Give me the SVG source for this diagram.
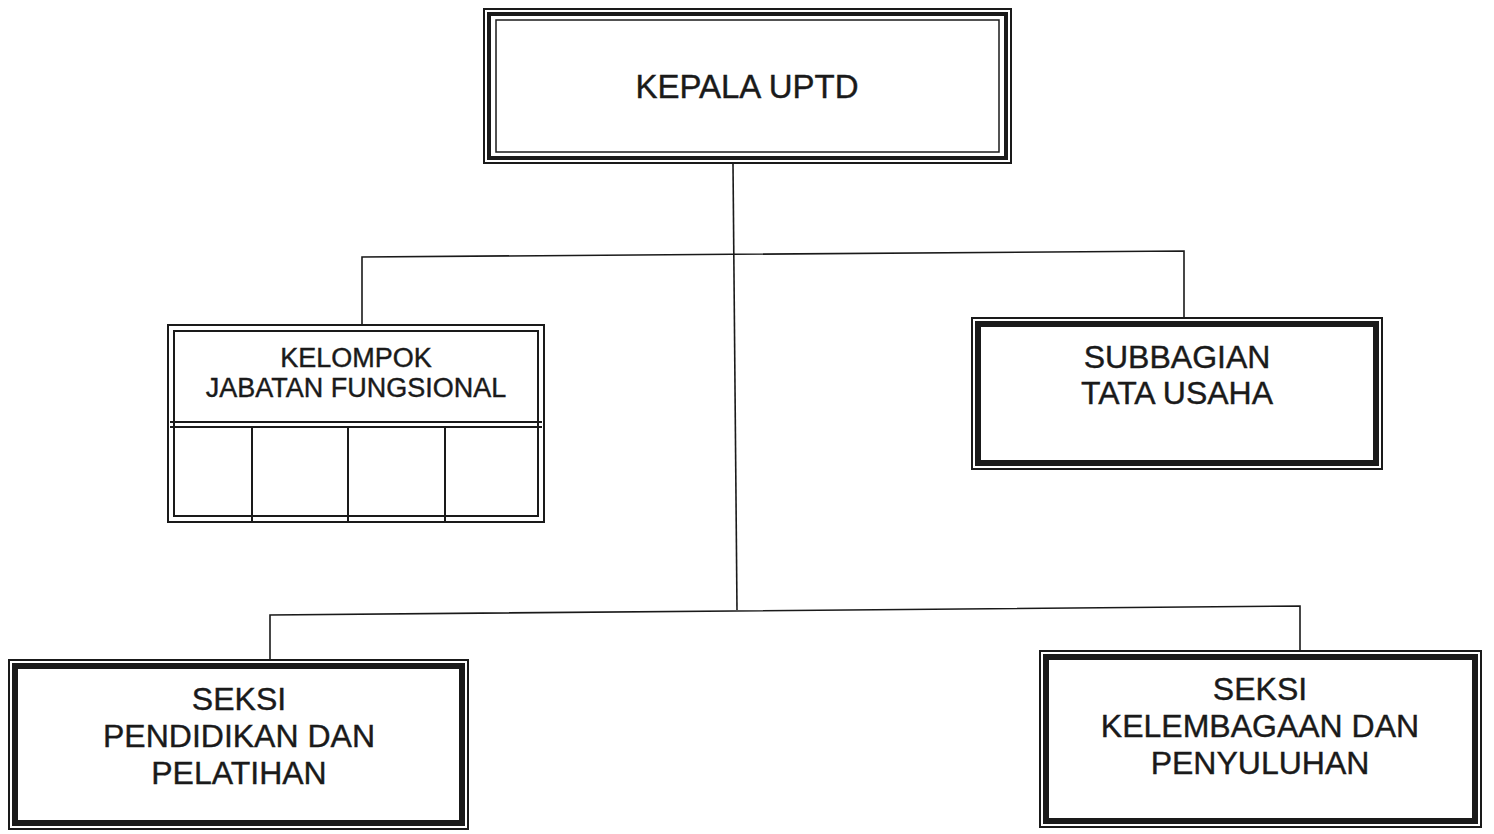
<svg xmlns="http://www.w3.org/2000/svg" width="1494" height="834" viewBox="0 0 1494 834">
<style>
.o{fill:none;stroke:#1a1a1a;stroke-width:2}
.m{fill:none;stroke:#1a1a1a;stroke-width:4}
.mt{fill:none;stroke:#1a1a1a;stroke-width:6}
.i{fill:none;stroke:#1a1a1a;stroke-width:1.5}
.c{fill:none;stroke:#1a1a1a;stroke-width:1.6}
text{font-family:"Liberation Sans",Arial,sans-serif;fill:#1a1a1a;stroke:#1a1a1a;stroke-width:0.4;text-anchor:middle}
.t33{font-size:33px}
.t27{font-size:27px}
.t32{font-size:32px}
</style>
<rect width="1494" height="834" fill="#ffffff"/>
<g id="connectors">
<polyline class="c" points="733,164 737,610"/>
<polyline class="c" points="362,325 362,257 1184,251 1184,318"/>
<polyline class="c" points="270,660 270,615 1300,606 1300,652"/>
</g>
<g id="kepala">
<rect x="484" y="9" width="527" height="154" fill="#fff" class="o"/>
<rect x="489" y="14" width="517" height="144" class="m"/>
<rect x="496" y="20" width="503" height="132" class="i"/>
<text class="t33" x="747" y="98">KEPALA UPTD</text>
</g>
<g id="kelompok">
<rect x="168" y="325" width="376" height="197" fill="#fff" class="o"/>
<rect x="174" y="331" width="364" height="185" class="o"/>
<line class="o" x1="170" y1="422" x2="542" y2="422"/>
<line class="o" x1="170" y1="427" x2="542" y2="427"/>
<line class="o" x1="252" y1="427" x2="252" y2="522"/>
<line class="o" x1="348" y1="427" x2="348" y2="522"/>
<line class="o" x1="445" y1="427" x2="445" y2="522"/>
<text class="t27" x="356" y="367">KELOMPOK</text>
<text class="t27" x="356" y="397">JABATAN FUNGSIONAL</text>
</g>
<g id="subbagian">
<rect x="972" y="318" width="410" height="151" fill="#fff" class="o"/>
<rect x="978" y="324" width="398" height="139" class="mt"/>
<text class="t32" x="1177" y="368">SUBBAGIAN</text>
<text class="t32" x="1177" y="404">TATA USAHA</text>
</g>
<g id="seksi-pendidikan">
<rect x="9" y="660" width="459" height="169" fill="#fff" class="o"/>
<rect x="15" y="666" width="447" height="157" class="mt"/>
<text class="t32" x="239" y="710">SEKSI</text>
<text class="t32" x="239" y="747">PENDIDIKAN DAN</text>
<text class="t32" x="239" y="784">PELATIHAN</text>
</g>
<g id="seksi-kelembagaan">
<rect x="1040" y="651" width="441" height="176" fill="#fff" class="o"/>
<rect x="1046" y="657" width="429" height="164" class="mt"/>
<text class="t32" x="1260" y="700">SEKSI</text>
<text class="t32" x="1260" y="737">KELEMBAGAAN DAN</text>
<text class="t32" x="1260" y="774">PENYULUHAN</text>
</g>
</svg>
